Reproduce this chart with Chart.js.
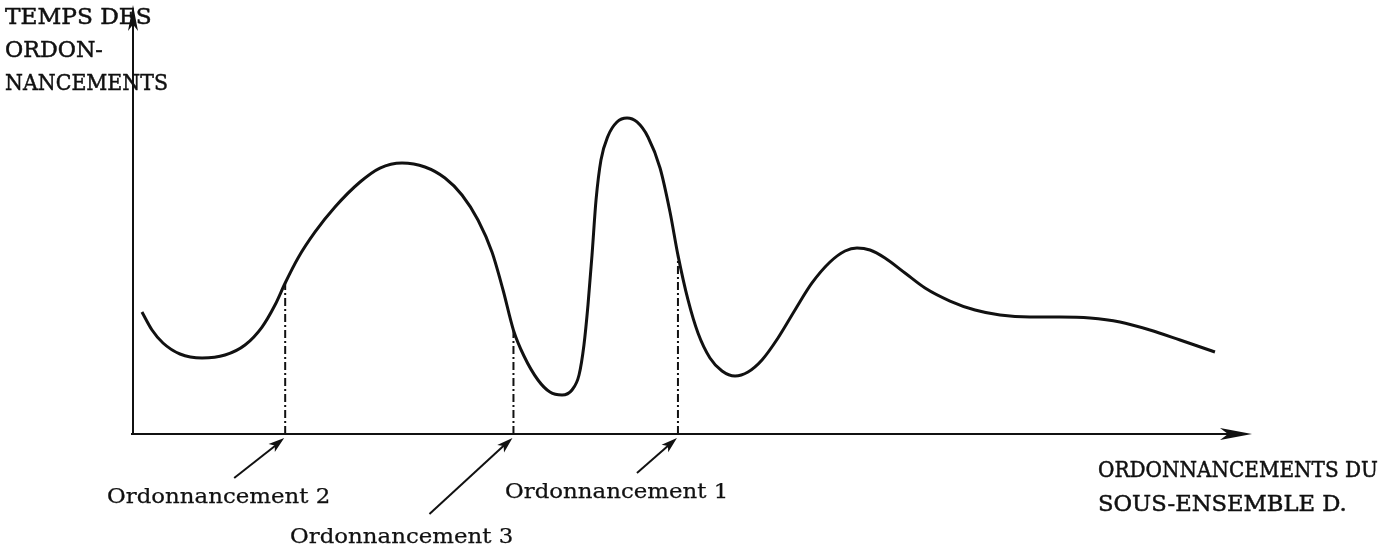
<!DOCTYPE html>
<html>
<head>
<meta charset="utf-8">
<script src="https://cdn.jsdelivr.net/npm/chart.js@4/dist/chart.umd.min.js"></script>
<style>
  html, body { margin: 0; padding: 0; background: #fff; }
  canvas { display: block; }
</style>
</head>
<body>
<canvas id="c" width="1387" height="552"></canvas>
<script>
// Durée d'ordonnancement le long des ordonnancements du sous-ensemble D
const curveX = [0.80, 1.70, 2.68, 4.20, 6.17, 8.22, 10.01, 11.53, 12.69, 13.6, 14.75, 16.27, 18.05, 20.29, 22.07, 24.04,
  26.09, 27.88, 29.40, 30.83, 32.08, 33.07, 34.0, 34.94, 36.19, 37.26, 38.34,
  39.23, 39.86, 40.30, 40.66, 41.02, 41.38, 41.82, 42.45, 43.25, 44.15, 45.04, 46.02, 47.10, 47.99, 48.7, 49.60, 50.49, 51.56, 52.64, 53.80,
  54.96, 56.21, 57.64, 59.16, 60.68, 62.29, 63.63, 64.70, 65.86, 67.20, 68.99, 70.78, 73.01, 75.25, 77.48, 80.16, 82.84, 85.52, 88.20, 90.88, 93.57, 96.69];
const curveY = [28.44, 24.24, 21.21, 18.65, 17.72, 18.41, 20.75, 24.94, 30.07, 35.2, 41.03, 47.09, 52.91, 58.74, 62.00, 63.17,
  62.24, 59.67, 55.71, 49.88, 42.42, 33.57, 24.2, 18.18, 12.59, 9.79, 9.09,
  10.26, 13.75, 20.75, 30.07, 41.72, 54.55, 63.87, 69.46, 72.73, 73.66, 72.73, 69.23, 62.00, 51.75, 41.7, 31.24, 23.54, 17.72, 14.69, 13.52,
  14.45, 17.25, 22.38, 28.90, 35.20, 40.09, 42.66, 43.36, 42.89, 41.03, 37.53, 34.03, 31.00, 28.90, 27.74, 27.27, 27.27, 27.04, 26.11, 24.24, 21.91, 19.11];

// Ordonnancements repérés sur la courbe
const markerNames = ['Ordonnancement 2', 'Ordonnancement 3', 'Ordonnancement 1'];
const markerX = [13.6, 34.0, 48.7];
const markerY = [35.2, 24.2, 41.7];

// Libellés des axes
const yAxisLabel = ['TEMPS DES', 'ORDON-', 'NANCEMENTS'];
const xAxisLabel = ['ORDONNANCEMENTS DU', 'SOUS-ENSEMBLE D.'];

const INK = '#111';

const curvePoints = curveX.map((x, i) => ({ x, y: curveY[i] }));

const dropLines = markerX.map((x, i) => ({
  data: [{ x, y: 0 }, { x, y: markerY[i] }],
  borderColor: INK,
  borderWidth: 2,
  borderDash: [8, 3, 2, 3],
  pointRadius: 0,
  showLine: true,
  tension: 0
}));

function arrowHead(ctx, x0, y0, x1, y1, len, half) {
  const a = Math.atan2(y1 - y0, x1 - x0);
  ctx.beginPath();
  ctx.moveTo(x1, y1);
  ctx.lineTo(x1 - len * Math.cos(a) + half * Math.sin(a), y1 - len * Math.sin(a) - half * Math.cos(a));
  ctx.lineTo(x1 - len * Math.cos(a) * 0.75, y1 - len * Math.sin(a) * 0.75);
  ctx.lineTo(x1 - len * Math.cos(a) - half * Math.sin(a), y1 - len * Math.sin(a) + half * Math.cos(a));
  ctx.closePath();
  ctx.fill();
}

// Texte à pas fixe (machine à écrire) : chaque ligne occupe pitch px par caractère
function typeText(ctx, t, x, y, pitch) {
  const w = ctx.measureText(t).width;
  ctx.save();
  ctx.translate(x, y);
  ctx.scale((t.length * pitch) / w, 1);
  ctx.fillText(t, 0, 0);
  ctx.strokeText(t, 0, 0);
  ctx.restore();
}

// Axes fléchés, flèches de repère et textes
const sketchPlugin = {
  id: 'sketch',
  afterDatasetsDraw(chart) {
    const { ctx, scales: { x, y } } = chart;
    const x0 = x.getPixelForValue(0);
    const y0 = y.getPixelForValue(0);
    const xEnd = x.getPixelForValue(100);
    const yEnd = y.getPixelForValue(100);

    ctx.save();
    ctx.strokeStyle = INK;
    ctx.fillStyle = INK;
    ctx.lineCap = 'butt';

    // axe des abscisses
    ctx.lineWidth = 2.2;
    ctx.beginPath();
    ctx.moveTo(x0 - 2, y0);
    ctx.lineTo(xEnd - 20, y0);
    ctx.stroke();
    arrowHead(ctx, x0, y0, xEnd, y0, 32, 6);

    // axe des ordonnées
    ctx.lineWidth = 2;
    ctx.beginPath();
    ctx.moveTo(x0, y0 + 1);
    ctx.lineTo(x0, yEnd + 16);
    ctx.stroke();
    arrowHead(ctx, x0, y0, x0, yEnd, 26, 5);

    // flèches vers les ordonnancements
    const tails = [[-50, 40], [-83, 76], [-40, 35]];
    ctx.lineWidth = 2;
    markerX.forEach((mx, i) => {
      const tx = x.getPixelForValue(mx) - 1;
      const ty = y0 + 4;
      const sx = tx + tails[i][0];
      const sy = ty + tails[i][1];
      ctx.beginPath();
      ctx.moveTo(sx, sy);
      ctx.lineTo(tx - 8, ty + 7);
      ctx.stroke();
      arrowHead(ctx, sx, sy, tx, ty, 16, 5);
    });

    // textes
    ctx.textAlign = 'left';
    ctx.textBaseline = 'alphabetic';
    ctx.lineWidth = 0.25;
    ctx.font = '21px "DejaVu Serif", serif';
    const labelPos = [[107, 503], [290, 543], [505, 498]];
    markerNames.forEach((t, i) => typeText(ctx, t, labelPos[i][0], labelPos[i][1], 13.95));

    ctx.lineWidth = 0.5;
    ctx.font = '23px "DejaVu Serif", serif';
    yAxisLabel.forEach((t, i) => typeText(ctx, t, 5, 24 + i * 33, 16.3));

    ctx.font = '23px "DejaVu Serif", serif';
    xAxisLabel.forEach((t, i) => typeText(ctx, t, 1098, 477 + i * 34, 15.55));
    ctx.restore();
  }
};

new Chart(document.getElementById('c'), {
  type: 'scatter',
  data: {
    datasets: [
      {
        data: curvePoints,
        showLine: true,
        borderColor: INK,
        borderWidth: 3,
        pointRadius: 0,
        cubicInterpolationMode: 'monotone',
        fill: false
      },
      ...dropLines
    ]
  },
  options: {
    responsive: false,
    animation: false,
    devicePixelRatio: 1,
    layout: { padding: { left: 133, right: 135, top: 5, bottom: 118 } },
    scales: {
      x: { type: 'linear', min: 0, max: 100, display: false },
      y: { type: 'linear', min: 0, max: 100, display: false }
    },
    plugins: { legend: { display: false }, tooltip: { enabled: false } },
    events: []
  },
  plugins: [sketchPlugin]
});
</script>
</body>
</html>
